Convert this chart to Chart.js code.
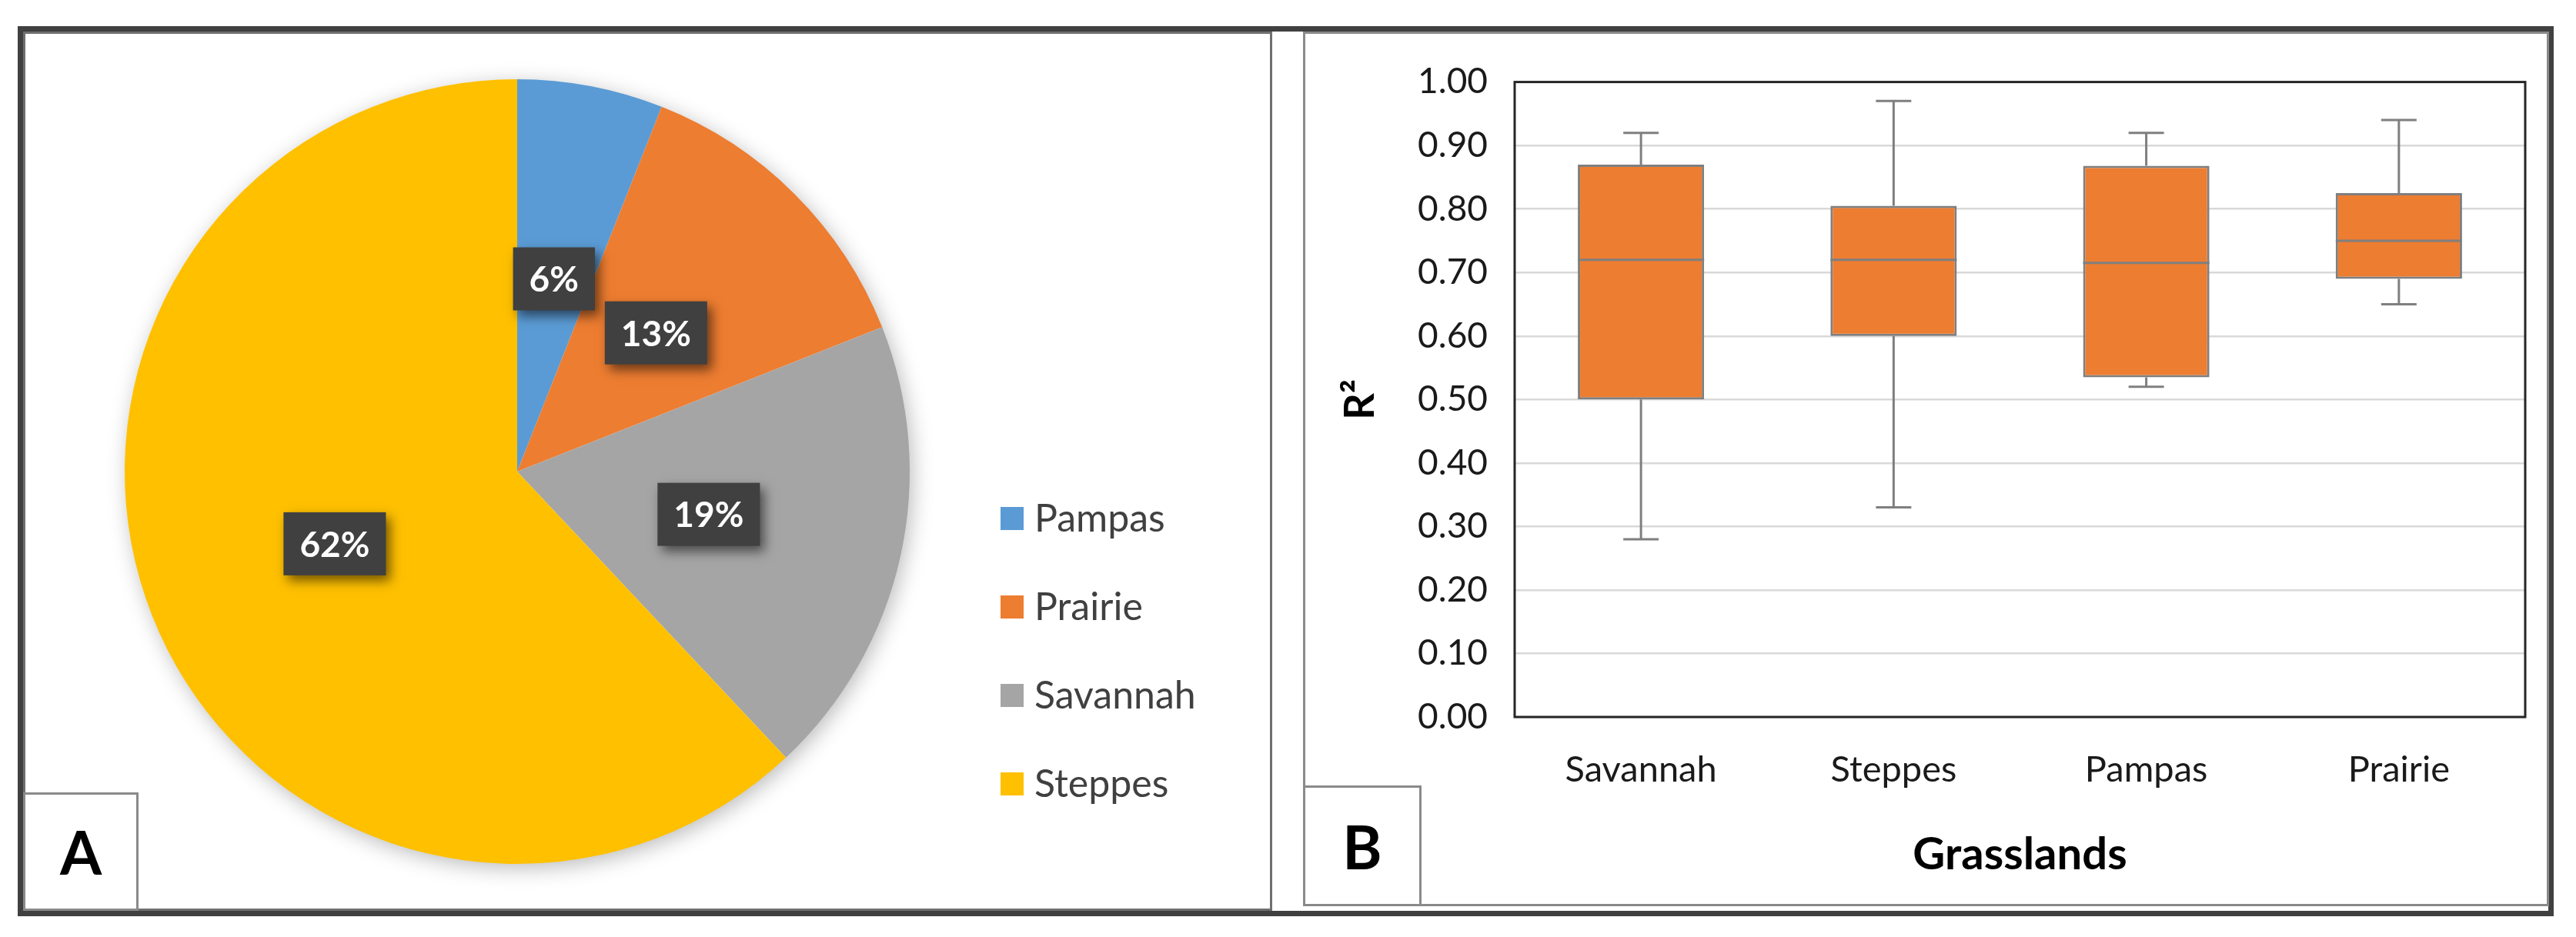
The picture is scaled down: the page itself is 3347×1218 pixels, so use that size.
<!DOCTYPE html>
<html>
<head>
<meta charset="utf-8">
<script src="https://cdn.jsdelivr.net/npm/chart.js@4.4.1/dist/chart.umd.min.js"></script>
<style>
  html, body { margin: 0; padding: 0; background: #fff; }
  body { width: 3347px; height: 1218px; position: relative; overflow: hidden; font-family: Lato, sans-serif; }
  .abs { position: absolute; box-sizing: border-box; }
  #outer { left: 23px; top: 34px; width: 3295px; height: 1157px; border: 7px solid #404040; }
  #panelA { left: 30px; top: 41px; width: 1623px; height: 1143px; border: 3px solid #6f6f6f; }
  #panelB { left: 1693px; top: 41px; width: 1619px; height: 1137px; border: 3px solid #8a8a8a; }
  .tag { display: flex; align-items: center; justify-content: center; background: #fff;
         border: 3px solid #8a8a8a; font-weight: 700; font-size: 78px; color: #000; }
  #tagA { left: 30px; top: 1030px; width: 150px; height: 154px; }
  #tagB { left: 1693px; top: 1021px; width: 154px; height: 157px; }
  canvas { position: absolute; }
</style>
</head>
<body>
<div class="abs" id="outer"></div>
<div class="abs" id="panelA"></div>
<div class="abs" id="panelB"></div>
<canvas id="pie" width="1616" height="1130" style="left:33px; top:48px;"></canvas>
<canvas id="box" width="1611" height="1131" style="left:1697px; top:44px;"></canvas>
<div class="abs tag" id="tagA">A</div>
<div class="abs tag" id="tagB">B</div>
<script>
// panel A: share of studies per grassland
const pieLabels = ['Pampas', 'Prairie', 'Savannah', 'Steppes'];
const pieValues = [6, 13, 19, 62];
const pieColors = ['#5B9BD5', '#ED7D31', '#A5A5A5', '#FFC000'];

// panel B: R2 spread per grassland
const boxCats = ['Savannah', 'Steppes', 'Pampas', 'Prairie'];
const boxMin = [0.28, 0.33, 0.52, 0.65];
const boxQ1 = [0.50, 0.60, 0.535, 0.69];
const boxMedian = [0.72, 0.72, 0.715, 0.75];
const boxQ3 = [0.87, 0.805, 0.868, 0.825];
const boxMax = [0.92, 0.97, 0.92, 0.94];

const FONT = 'Lato, "Noto Sans", sans-serif';
Chart.defaults.font.family = FONT;

// soft shadow behind the pie
const pieShadow = {
  id: 'pieShadow',
  beforeDatasetsDraw(chart) {
    const arc = chart.getDatasetMeta(0).data[0];
    if (!arc) return;
    const ctx = chart.ctx;
    ctx.save();
    ctx.shadowColor = 'rgba(0,0,0,0.28)';
    ctx.shadowBlur = 28;
    ctx.shadowOffsetX = 4;
    ctx.shadowOffsetY = 6;
    ctx.fillStyle = '#fff';
    ctx.beginPath();
    ctx.arc(arc.x, arc.y, arc.outerRadius - 1, 0, Math.PI * 2);
    ctx.fill();
    ctx.restore();
  }
};

// dark percentage boxes on the slices
const pieLabelsPlugin = {
  id: 'pieLabels',
  afterDatasetsDraw(chart) {
    const ctx = chart.ctx;
    const total = pieValues.reduce((a, b) => a + b, 0);
    ctx.save();
    ctx.font = 'bold 46px ' + FONT;
    ctx.textAlign = 'center';
    ctx.textBaseline = 'middle';
    chart.getDatasetMeta(0).data.forEach((arc, i) => {
      const p = arc.tooltipPosition();
      const txt = Math.round(pieValues[i] / total * 100) + '%';
      const w = ctx.measureText(txt).width + 42;
      const h = 82;
      ctx.save();
      ctx.shadowColor = 'rgba(0,0,0,0.55)';
      ctx.shadowBlur = 14;
      ctx.shadowOffsetX = 6;
      ctx.shadowOffsetY = 7;
      ctx.fillStyle = '#404040';
      ctx.fillRect(p.x - w / 2, p.y - h / 2, w, h);
      ctx.restore();
      ctx.fillStyle = '#fff';
      ctx.fillText(txt, p.x, p.y + 2);
    });
    ctx.restore();
  }
};

// legend on the right, lower half
const pieLegend = {
  id: 'pieLegend',
  afterDraw(chart) {
    const ctx = chart.ctx;
    ctx.save();
    ctx.font = '50px ' + FONT;
    ctx.textBaseline = 'middle';
    pieLabels.forEach((lab, i) => {
      const y = 626 + i * 115;
      ctx.fillStyle = pieColors[i];
      ctx.fillRect(1267, y - 15, 30, 30);
      ctx.fillStyle = '#404040';
      ctx.fillText(lab, 1311, y + 1);
    });
    ctx.restore();
  }
};

new Chart(document.getElementById('pie'), {
  type: 'pie',
  data: {
    labels: pieLabels,
    datasets: [{
      data: pieValues,
      backgroundColor: pieColors,
      borderWidth: 0
    }]
  },
  options: {
    responsive: false,
    devicePixelRatio: 1,
    animation: false,
    layout: { padding: { left: 129, right: 467, top: 55, bottom: 55 } },
    plugins: {
      legend: { display: false },
      tooltip: { enabled: false }
    }
  },
  plugins: [pieShadow, pieLabelsPlugin, pieLegend]
});

// whiskers, caps and medians drawn on the library's scales
const boxExtras = {
  id: 'boxExtras',
  afterDatasetsDraw(chart) {
    const ctx = chart.ctx;
    const x = chart.scales.x, y = chart.scales.y;
    const bars = chart.getDatasetMeta(0).data;
    const catW = x.getPixelForValue(1) - x.getPixelForValue(0);
    const capW = catW * 0.14;
    ctx.save();
    ctx.strokeStyle = '#7F7F7F';
    ctx.lineWidth = 3;
    boxCats.forEach((c, i) => {
      const cx = x.getPixelForValue(i);
      const segs = [[boxQ3[i], boxMax[i]], [boxQ1[i], boxMin[i]]];
      segs.forEach(([a, b]) => {
        ctx.beginPath();
        ctx.moveTo(cx, y.getPixelForValue(a));
        ctx.lineTo(cx, y.getPixelForValue(b));
        ctx.moveTo(cx - capW / 2, y.getPixelForValue(b));
        ctx.lineTo(cx + capW / 2, y.getPixelForValue(b));
        ctx.stroke();
      });
      const bar = bars[i];
      const my = y.getPixelForValue(boxMedian[i]);
      ctx.beginPath();
      ctx.moveTo(bar.x - bar.width / 2, my);
      ctx.lineTo(bar.x + bar.width / 2, my);
      ctx.stroke();
    });
    ctx.restore();
  },
  afterDraw(chart) {
    const a = chart.chartArea;
    const ctx = chart.ctx;
    ctx.save();
    ctx.strokeStyle = '#262626';
    ctx.lineWidth = 3;
    ctx.strokeRect(a.left, a.top, a.right - a.left, a.bottom - a.top);
    ctx.restore();
  }
};

new Chart(document.getElementById('box'), {
  type: 'bar',
  data: {
    labels: boxCats,
    datasets: [{
      data: boxCats.map((c, i) => [boxQ1[i], boxQ3[i]]),
      backgroundColor: '#ED7D31',
      borderColor: '#7F7F7F',
      borderWidth: 3,
      borderSkipped: false,
      barPercentage: 0.5,
      categoryPercentage: 1
    }]
  },
  options: {
    responsive: false,
    devicePixelRatio: 1,
    animation: false,
    layout: { padding: { left: 0, right: 27, top: 56, bottom: 0 } },
    plugins: {
      legend: { display: false },
      tooltip: { enabled: false }
    },
    scales: {
      x: {
        grid: { display: false, drawTicks: false },
        border: { display: false },
        ticks: { color: '#1a1a1a', font: { size: 47 }, padding: 41 },
        title: {
          display: true,
          text: 'Grasslands',
          color: '#000',
          font: { size: 58, weight: 'bold' },
          padding: { top: 0, bottom: 29 }
        },
        afterFit(scale) { scale.height = 243; }
      },
      y: {
        min: 0,
        max: 1,
        grid: { color: '#D9D9D9', lineWidth: 2.5, drawTicks: false },
        border: { display: false },
        ticks: {
          stepSize: 0.1,
          color: '#1a1a1a',
          font: { size: 46 },
          padding: 35,
          callback: v => v.toFixed(2)
        },
        title: {
          display: true,
          text: 'R²',
          color: '#000',
          font: { size: 54, weight: 'bold' },
          padding: { top: 38, bottom: 0 }
        },
        afterFit(scale) { scale.width = 271; }
      }
    }
  },
  plugins: [boxExtras]
});
</script>
</body>
</html>
